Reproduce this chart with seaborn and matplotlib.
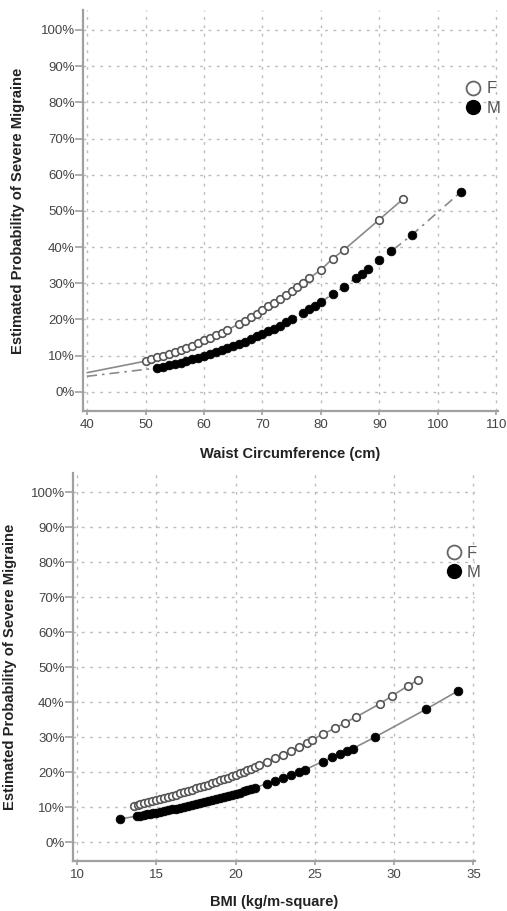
import matplotlib
matplotlib.use("Agg")
import matplotlib.pyplot as plt
from matplotlib.lines import Line2D
from matplotlib.ticker import FuncFormatter
import pandas as pd
import seaborn as sns

# waist circumference panel (percent probability)
WAIST_LINE_START_X = 40
WAIST_F_LINE_START = 5.3
WAIST_M_LINE_START = 4.3

waist_f_x = [50, 51, 52, 53, 54, 55, 56, 57, 58, 59, 60, 61, 62, 63, 64,
             66, 67, 68, 69, 70, 71, 72, 73, 74, 75, 76, 77, 78, 80, 82, 84, 90, 94]
waist_f_y = [8.5, 9.0, 9.5, 10.0, 10.5, 11.0, 11.6, 12.2, 12.8, 13.5, 14.2, 14.9, 15.6, 16.4, 17.1,
             18.8, 19.7, 20.6, 21.6, 22.5, 23.6, 24.6, 25.7, 26.8, 27.9, 29.1, 30.2, 31.4, 33.7, 36.8, 39.3, 47.6, 53.2]

waist_m_x = [52, 53, 54, 55, 56, 57, 58, 59, 60, 61, 62, 63, 64, 65, 66, 67, 68, 69, 70,
             71, 72, 73, 74, 75, 77, 78, 79, 80, 82, 84, 86, 87, 88, 90, 92, 95.6, 104]
waist_m_y = [6.6, 6.9, 7.3, 7.7, 8.1, 8.5, 9.0, 9.4, 9.9, 10.4, 10.9, 11.5, 12.0, 12.6, 13.2, 13.9, 14.6, 15.3, 16.0,
             16.7, 17.5, 18.3, 19.2, 20.0, 21.9, 22.8, 23.8, 24.8, 27.0, 29.0, 31.5, 32.7, 33.9, 36.3, 38.8, 43.4, 55.3]

# BMI panel
bmi_f_x = [13.6, 13.85, 14.0, 14.25, 14.5, 14.75, 15.0, 15.25, 15.5, 15.75, 16.0, 16.25, 16.5, 16.75,
           17.0, 17.25, 17.5, 17.75, 18.0, 18.25, 18.5, 18.75, 19.0, 19.25, 19.5, 19.75, 20.0, 20.25,
           20.5, 20.75, 21.0, 21.25, 21.5, 22.0, 22.5, 23.0, 23.5, 24.0, 24.5, 24.8,
           25.5, 26.3, 26.9, 27.6, 29.1, 29.85, 30.9, 31.5]
bmi_f_y = [10.5, 10.8, 11.0, 11.2, 11.5, 11.8, 12.1, 12.4, 12.7, 13.0, 13.3, 13.6, 14.0, 14.3,
           14.7, 15.0, 15.4, 15.7, 16.1, 16.5, 16.9, 17.3, 17.7, 18.1, 18.5, 18.9, 19.3, 19.7,
           20.2, 20.6, 21.1, 21.6, 22.1, 23.0, 24.0, 25.1, 26.1, 27.2, 28.4, 29.1,
           31.0, 32.6, 34.2, 35.8, 39.6, 41.8, 44.8, 46.3]

bmi_m_x = [12.7, 13.8, 14.0, 14.2, 14.4, 14.6, 14.8, 15.0, 15.25, 15.5, 15.75, 16.0, 16.25, 16.5,
           16.75, 17.0, 17.25, 17.5, 17.75, 18.0, 18.25, 18.5, 18.75, 19.0, 19.25, 19.5, 19.75,
           20.0, 20.25, 20.5, 20.75, 21.0, 21.2, 22.0, 22.5, 23.0, 23.5, 24.0, 24.4,
           25.5, 26.1, 26.6, 27.0, 27.4, 28.8, 32.0, 34.0]
bmi_m_y = [6.7, 7.5, 7.65, 7.8, 8.0, 8.2, 8.35, 8.5, 8.7, 8.9, 9.15, 9.4, 9.65, 9.9,
           10.15, 10.4, 10.65, 10.9, 11.2, 11.5, 11.75, 12.0, 12.3, 12.6, 12.95, 13.3, 13.6,
           13.9, 14.25, 14.6, 14.95, 15.3, 15.6, 16.8, 17.5, 18.4, 19.2, 20.1, 20.8,
           23.1, 24.3, 25.3, 26.0, 26.8, 30.1, 38.0, 43.2]

Y_TICKS = list(range(0, 101, 10))
WAIST_TICKS = list(range(40, 111, 10))
BMI_TICKS = list(range(10, 36, 5))
SEX_LABELS = ["F", "M"]

sns.set_theme(style="white")
plt.rcParams["font.family"] = ["Liberation Sans", "DejaVu Sans"]

SPINE = "#a0a0a0"
GRID = "#bcbcbc"
TEXT = "#444444"
LINE = "#8a8a8a"


def style_axes(ax, xticks, xlim, xlabel, ylabel_x, xlabel_pad):
    ax.set_xlim(*xlim)
    ax.set_ylim(-5.3, 105.5)
    ax.set_xticks(xticks)
    ax.set_yticks(Y_TICKS)
    ax.yaxis.set_major_formatter(FuncFormatter(lambda v, _: f"{int(v)}%"))
    ax.grid(True, color=GRID, linestyle=(0, (2, 4)), linewidth=1.0)
    ax.set_axisbelow(True)
    for side in ("top", "right"):
        ax.spines[side].set_visible(False)
    for side in ("left", "bottom"):
        ax.spines[side].set_color(SPINE)
        ax.spines[side].set_linewidth(1.6)
    ax.tick_params(axis="both", direction="out", width=1.2, color=SPINE,
                   labelsize=9.5, labelcolor=TEXT, left=True, bottom=True)
    ax.tick_params(axis="y", length=5.5, pad=0.5)
    ax.tick_params(axis="x", length=3, pad=2.5)
    ax.set_xlabel(xlabel, fontsize=10.5, fontweight="bold", color="#222222", labelpad=xlabel_pad)
    ax.set_ylabel("Estimated Probability of Severe Migraine", fontsize=10.6, fontweight="bold",
                  color="#222222")
    ax.yaxis.set_label_coords(ylabel_x, 0.5)


def add_legend(ax, anchor):
    handles = [
        Line2D([0], [0], marker="o", linestyle="none", markerfacecolor="white",
               markeredgecolor="#666666", markeredgewidth=1.3, markersize=10),
        Line2D([0], [0], marker="o", linestyle="none", markerfacecolor="black",
               markeredgecolor="black", markersize=10),
    ]
    leg = ax.legend(handles, SEX_LABELS, loc="upper left", bbox_to_anchor=anchor, frameon=False,
                    handlelength=1.0, handletextpad=0.3, labelspacing=0.25, borderpad=0,
                    borderaxespad=0, fontsize=12)
    for t in leg.get_texts():
        t.set_color("#555555")


fig = plt.figure(figsize=(5.07, 9.11), dpi=100)
ax1 = fig.add_axes([0.1637, 0.5488, 0.8185, 0.4402])
ax2 = fig.add_axes([0.1440, 0.0549, 0.7930, 0.4260])

# top panel: waist circumference
wf_line = pd.DataFrame({"x": [WAIST_LINE_START_X] + waist_f_x, "y": [WAIST_F_LINE_START] + waist_f_y})
wm_line = pd.DataFrame({"x": [WAIST_LINE_START_X] + waist_m_x, "y": [WAIST_M_LINE_START] + waist_m_y})
sns.lineplot(data=wf_line, x="x", y="y", ax=ax1, color=LINE, lw=1.2, sort=False, zorder=2)
sns.lineplot(data=wm_line, x="x", y="y", ax=ax1, color=LINE, lw=1.2, sort=False,
             linestyle=(0, (6, 3, 1.5, 3)), zorder=2)
sns.scatterplot(x=waist_f_x, y=waist_f_y, ax=ax1, s=30, marker="o", facecolor="white",
                edgecolor="#555555", linewidth=1.2, zorder=3)
sns.scatterplot(x=waist_m_x, y=waist_m_y, ax=ax1, s=40, marker="o", color="black",
                edgecolor="black", linewidth=0.5, zorder=3)
style_axes(ax1, WAIST_TICKS, (39.3, 110.3), "Waist Circumference (cm)", -0.14, 12)
add_legend(ax1, (0.92, 0.822))

# bottom panel: BMI
bf = pd.DataFrame({"x": bmi_f_x, "y": bmi_f_y})
bm = pd.DataFrame({"x": bmi_m_x, "y": bmi_m_y})
sns.lineplot(data=bf, x="x", y="y", ax=ax2, color=LINE, lw=1.2, sort=False, zorder=2)
sns.lineplot(data=bm, x="x", y="y", ax=ax2, color=LINE, lw=1.2, sort=False, zorder=2)
sns.scatterplot(data=bf, x="x", y="y", ax=ax2, s=30, marker="o", facecolor="white",
                edgecolor="#555555", linewidth=1.2, zorder=3)
sns.scatterplot(data=bm, x="x", y="y", ax=ax2, s=40, marker="o", color="black",
                edgecolor="black", linewidth=0.5, zorder=3)
style_axes(ax2, BMI_TICKS, (9.75, 35.1), "BMI (kg/m-square)", -0.139, 10.5)
add_legend(ax2, (0.926, 0.812))

fig.savefig("out.png", dpi=100)
plt.close(fig)
